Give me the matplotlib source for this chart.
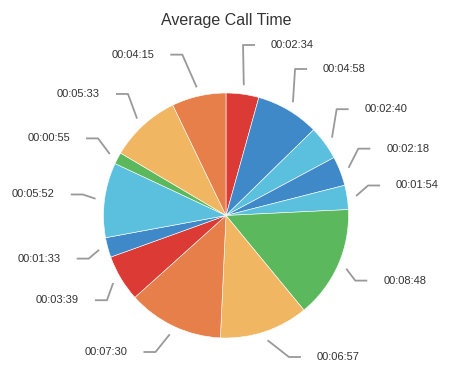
import numpy as np
import matplotlib.pyplot as plt

plt.rcParams['font.family'] = ['Liberation Sans', 'DejaVu Sans']

# average call time per slice, clockwise from 12 o'clock
durations = ['00:02:34', '00:04:58', '00:02:40', '00:02:18', '00:01:54',
             '00:08:48', '00:06:57', '00:07:30', '00:03:39', '00:01:33',
             '00:05:52', '00:00:55', '00:05:33', '00:04:15']
colors = ['#db3a35', '#3f89c9', '#5bbfde', '#3f89c9', '#5bbfde',
          '#5cb85c', '#f1b661', '#e67f4a', '#db3a35', '#3f89c9',
          '#5bbfde', '#5cb85c', '#f1b661', '#e67f4a']

seconds = [int(h) * 3600 + int(m) * 60 + int(s)
           for h, m, s in (d.split(':') for d in durations)]

W, H = 463, 386
fig = plt.figure(figsize=(W / 100, H / 100), dpi=100)
ax = fig.add_axes([0, 0, 1, 1])

# pie geometry in pixels (y measured from the top)
cx, cy_px, r = 226, 215.5, 122.5
cy = H - cy_px

ax.pie(seconds, colors=colors, center=(cx, cy), radius=r, startangle=90,
       counterclock=False, wedgeprops=dict(edgecolor='white', linewidth=0.4))

ax.set_xlim(0, W)
ax.set_ylim(0, H)
ax.set_aspect('equal')
ax.axis('off')

# label layout
total = sum(seconds)
cum = np.cumsum([0] + seconds)
mids = np.radians((cum[:-1] + np.array(seconds) / 2) / total * 360)
side = np.where(np.degrees(mids) < 180, 1, -1)

# per side: (centre y, radius) used to place label y, and bottom limit
y_layout = {1: (211, 172, 357), -1: (215.5, 165, 352)}
lab_cy, R_lab = 211, 172
y_top, gap = 45, 24

py = np.zeros(len(seconds))
for i in range(len(seconds)):
    c, rr, bot = y_layout[side[i]]
    py[i] = np.clip(c - rr * np.cos(mids[i]), y_top, bot)

for s in (1, -1):
    bot = y_layout[s][2]
    idx = [i for i in np.argsort(py) if side[i] == s]
    for a, b in zip(idx[:-1], idx[1:]):
        if py[b] - py[a] < gap:
            py[b] = py[a] + gap
    for a, b in zip(idx[::-1][1:], idx[::-1][:-1]):
        if py[b] > bot:
            py[b] = bot
        if py[b] - py[a] < gap:
            py[a] = py[b] - gap

for i, label in enumerate(durations):
    dy = py[i] - lab_cy
    dx = np.sqrt(max(R_lab ** 2 - dy ** 2, 0))
    tx = cx + side[i] * dx
    end_x = tx - side[i] * 16
    elb_x = end_x - side[i] * 12
    sx = cx + (r + 9) * np.sin(mids[i])
    sy = cy_px - (r + 9) * np.cos(mids[i])
    ax.plot([sx, elb_x, end_x], [H - sy, H - py[i], H - py[i]],
            color='#999999', lw=1.3, solid_capstyle='butt')
    ax.text(tx, H - py[i], label, fontsize=8, color='#333333',
            ha='left' if side[i] > 0 else 'right', va='center')

ax.text(cx, H - 20, 'Average Call Time', fontsize=11.5, color='#333333',
        ha='center', va='center')

fig.savefig('out.png', dpi=100)
